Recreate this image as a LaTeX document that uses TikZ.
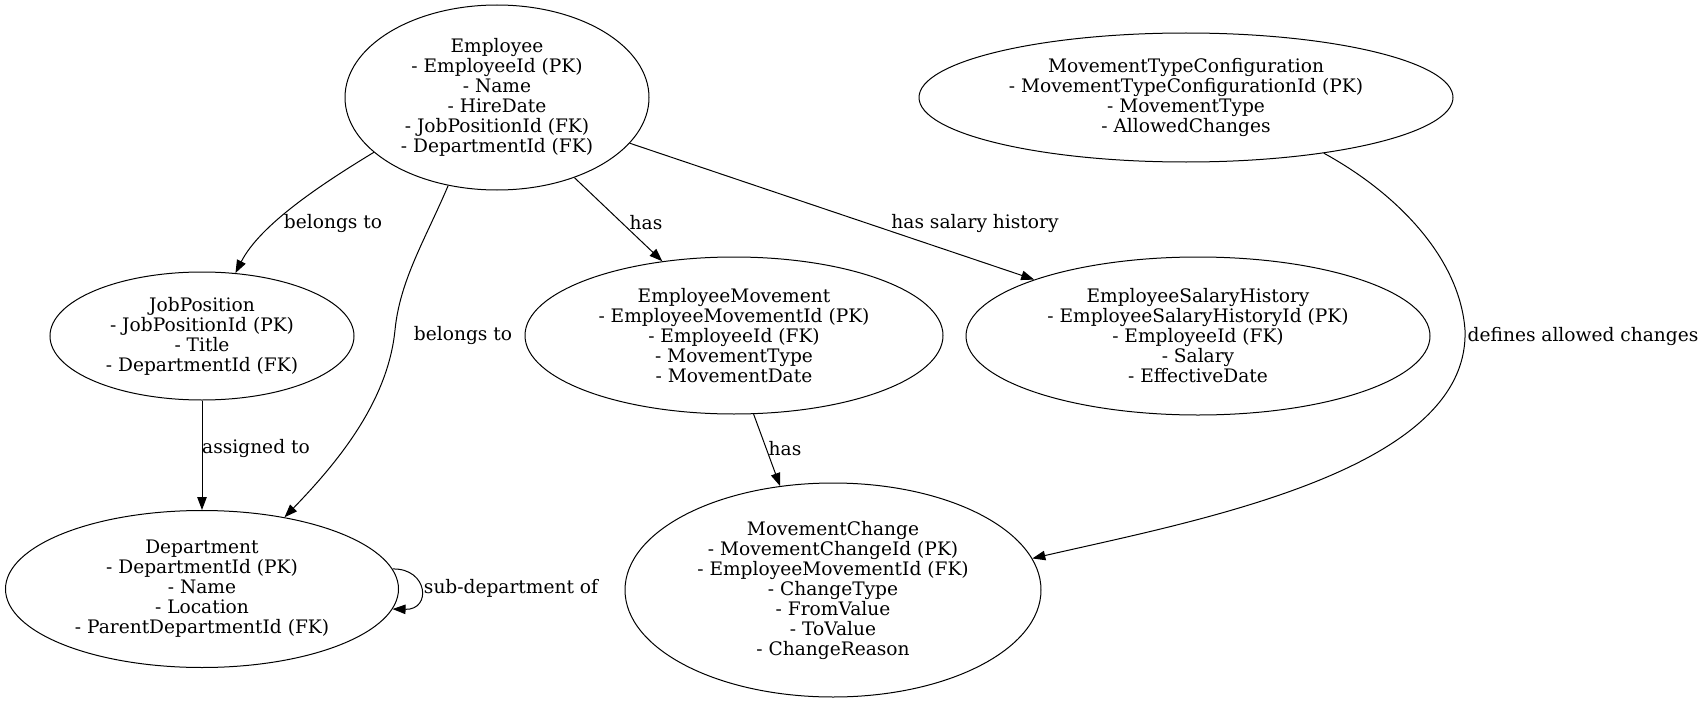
\documentclass[tikz,border=0pt]{standalone}
\usepackage{fontspec}
\setmainfont{DejaVu Serif}
\usetikzlibrary{shapes.geometric,arrows.meta}
\begin{document}
\begin{tikzpicture}[x=1pt,y=-1pt,
  every node/.style={font=\fontsize{18.6}{20}\selectfont},
  entity/.style={draw,ellipse,line width=1pt,inner sep=0pt,align=center},
  lbl/.style={inner sep=0pt,align=center},
  conn/.style={line width=1pt,-{Triangle[length=13pt,width=9.5pt]}}]
\useasboundingbox (0,0) rectangle (1706,701);
\node[entity,minimum width=304pt,minimum height=185pt] (emp) at (497,97.5)
  {Employee\\- EmployeeId (PK)\\- Name\\- HireDate\\- JobPositionId (FK)\\- DepartmentId (FK)};
\node[entity,minimum width=534pt,minimum height=129pt] (mtc) at (1186,97.5)
  {MovementTypeConfiguration\\- MovementTypeConfigurationId (PK)\\- MovementType\\- AllowedChanges};
\node[entity,minimum width=304pt,minimum height=128pt] (job) at (202,336)
  {JobPosition\\- JobPositionId (PK)\\- Title\\- DepartmentId (FK)};
\node[entity,minimum width=418pt,minimum height=157pt] (em) at (734,335.5)
  {EmployeeMovement\\- EmployeeMovementId (PK)\\- EmployeeId (FK)\\- MovementType\\- MovementDate};
\node[entity,minimum width=464pt,minimum height=158pt] (esh) at (1198,336)
  {EmployeeSalaryHistory\\- EmployeeSalaryHistoryId (PK)\\- EmployeeId (FK)\\- Salary\\- EffectiveDate};
\node[entity,minimum width=393pt,minimum height=157pt] (dept) at (202,589)
  {Department\\- DepartmentId (PK)\\- Name\\- Location\\- ParentDepartmentId (FK)};
\node[entity,minimum width=416pt,minimum height=214pt] (mc) at (833,590)
  {MovementChange\\- MovementChangeId (PK)\\- EmployeeMovementId (FK)\\- ChangeType\\- FromValue\\- ToValue\\- ChangeReason};

% edges
\draw[conn] (emp.204) .. controls (320,185) and (260,225) .. (job.62.4);
\draw[conn] (emp.241.3) .. controls (425,240) and (400,280) .. (395,330)
  .. controls (388,400) and (340,460) .. (dept.41.6);
\draw[conn] (emp.314.8) -- (em.134.8);
\draw[conn] (emp.341) -- (esh.161.1);
\draw[conn] (job.south) -- (dept.north);
\draw[conn] (em.284.3) -- (mc.117.4);
\draw[conn] (mtc.338.7) .. controls (1400,195) and (1460,260) .. (1465,330)
  .. controls (1470,470) and (1200,520) .. (mc.9.6);
\draw[conn] (dept.6.3) .. controls (428,568) and (432,610) .. (dept.-6.6);

% labels
\node[lbl] (l1) at (333,223) {belongs to};
\node[lbl] (l2) at (463,335) {belongs to};
\node[lbl] (l3) at (646,223) {has};
\node[lbl] (l4) at (975,223) {has salary history};
\node[lbl] (l5) at (256,448) {assigned to};
\node[lbl] (l6) at (785,449) {has};
\node[lbl] (l7) at (1583,336) {defines allowed changes};
\node[lbl] (l8) at (511,588) {sub-department of};
\end{tikzpicture}
\end{document}
